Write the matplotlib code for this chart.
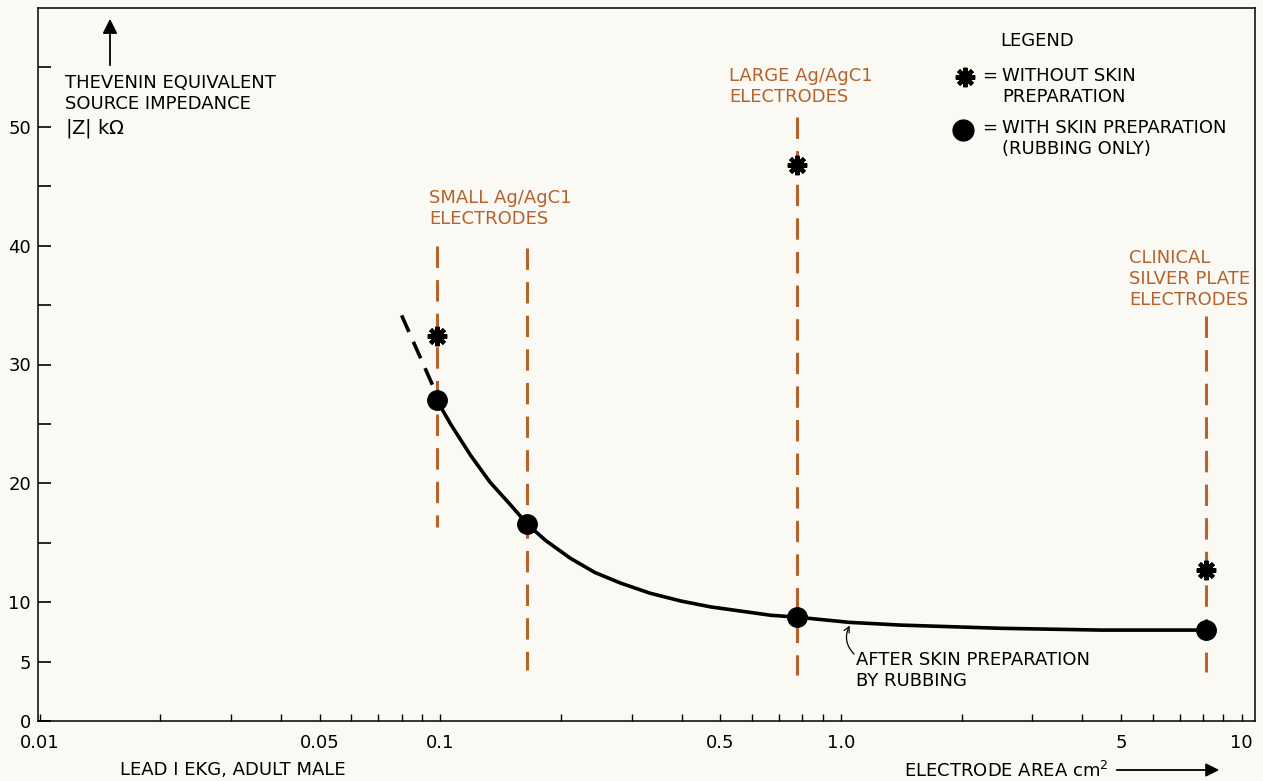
import matplotlib as mpl
import matplotlib.pyplot as plt
from matplotlib.ticker import FixedLocator, NullFormatter

# electrode areas (cm^2) of the measured electrode types
small_areas = [0.098, 0.165]
large_area = 0.776
clinical_area = 8.17

# |Z| in kOhm
prep_area = [0.098, 0.165, 0.776, 8.17]
prep_z = [27.0, 16.55, 8.74, 7.65]
noprep_area = [0.098, 0.776, 8.17]
noprep_z = [32.4, 46.8, 12.7]

# smooth curve after skin preparation
curve_area = [0.098, 0.106, 0.119, 0.133, 0.150, 0.165, 0.183, 0.211,
              0.243, 0.282, 0.334, 0.398, 0.473, 0.562, 0.667, 0.776,
              1.05, 1.41, 2.51, 4.47, 8.17]
curve_z = [27.0, 25.0, 22.35, 20.1, 18.15, 16.55, 15.2, 13.7, 12.5, 11.6,
           10.75, 10.1, 9.6, 9.25, 8.9, 8.74, 8.3, 8.07, 7.8, 7.65, 7.65]
# dashed extrapolation above the smallest electrode
extra_area = [0.0955, 0.0794]
extra_z = [28.3, 34.4]

# vertical electrode markers: (area, top, bottom)
guide_area = [0.098, 0.165, 0.776, 8.17]
guide_top = [40.0, 39.8, 50.8, 34.1]
guide_bottom = [16.3, 4.3, 3.9, 4.1]

xtick_vals = [0.01, 0.05, 0.1, 0.5, 1.0, 5, 10]
xtick_labels = ['0.01', '0.05', '0.1', '0.5', '1.0', '5', '10']
xminor_vals = [0.02, 0.03, 0.04, 0.06, 0.07, 0.08, 0.09,
               0.2, 0.3, 0.4, 0.6, 0.7, 0.8, 0.9,
               2, 3, 4, 6, 7, 8, 9]
ytick_vals = [0, 5, 10, 15, 20, 25, 30, 35, 40, 45, 50, 55]
ytick_labels = ['0', '5', '10', '', '20', '', '30', '', '40', '', '50', '']

W, H = 1263, 781
ORANGE = '#b5622d'
BG = '#faf9f4'
FS = 13


def fx(px):
    return px / W


def fy(py):
    return 1 - py / H


def main():
    mpl.rcParams['font.family'] = 'DejaVu Sans'
    fig = plt.figure(figsize=(W / 100, H / 100), dpi=100, facecolor=BG)
    ax = fig.add_axes([fx(38), fy(721), fx(1255) - fx(38), fy(8) - fy(721)])
    ax.set_facecolor(BG)
    ax.set_xscale('log')
    ax.set_xlim(0.0099, 10.8)
    ax.set_ylim(0, 60)

    for a, t, b in zip(guide_area, guide_top, guide_bottom):
        ax.plot([a, a], [t, b], color=ORANGE, lw=2.2,
                dashes=(7, 4), zorder=1)

    ax.plot(curve_area, curve_z, color='k', lw=2.6, zorder=3,
            solid_capstyle='round', solid_joinstyle='round')
    ax.plot(extra_area, extra_z, color='k', lw=2.6, dashes=(5, 3),
            zorder=3)
    ax.plot(prep_area, prep_z, 'o', color='k', ms=14, zorder=4)
    ax.plot(noprep_area, noprep_z, marker=(8, 2, 0), ls='none', color='k',
            ms=14, mew=3, zorder=4)

    ax.xaxis.set_major_locator(FixedLocator(xtick_vals))
    ax.set_xticklabels(xtick_labels)
    ax.xaxis.set_minor_locator(FixedLocator(xminor_vals))
    ax.xaxis.set_minor_formatter(NullFormatter())
    ax.set_yticks(ytick_vals)
    ax.set_yticklabels(ytick_labels)
    ax.tick_params(axis='x', which='both', direction='in', length=5,
                   width=1.0, labelsize=FS, pad=9)
    ax.tick_params(axis='y', direction='in', length=9, width=1.2,
                   labelsize=FS, pad=5)
    for s in ax.spines.values():
        s.set_linewidth(1.1)

    # y axis caption and arrow
    ax.annotate('', xy=(fx(110), fy(16)), xytext=(fx(110), fy(68)),
                xycoords='figure fraction', textcoords='figure fraction',
                arrowprops=dict(arrowstyle='-|>', color='k', lw=1.3,
                                mutation_scale=22))
    fig.text(fx(65), fy(74), 'THEVENIN EQUIVALENT\nSOURCE IMPEDANCE',
             fontsize=FS, va='top', ha='left')
    fig.text(fx(65), fy(117), r'$|$Z$|$ k$\Omega$', fontsize=FS + 1,
             va='top', ha='left')

    # electrode captions
    fig.text(fx(429), fy(189), 'SMALL Ag/AgC1\nELECTRODES', color=ORANGE,
             fontsize=FS, va='top', ha='left')
    fig.text(fx(729), fy(67), 'LARGE Ag/AgC1\nELECTRODES', color=ORANGE,
             fontsize=FS, va='top', ha='left')
    fig.text(fx(1129), fy(249), 'CLINICAL\nSILVER PLATE\nELECTRODES',
             color=ORANGE, fontsize=FS, va='top', ha='left')

    # legend
    fig.text(fx(1000), fy(32), 'LEGEND', fontsize=FS, va='top', ha='left')
    ax.plot([fx(965)], [fy(77)], marker=(8, 2, 0), color='k', ms=14, mew=3,
            transform=fig.transFigure, clip_on=False)
    fig.text(fx(982), fy(67), '=', fontsize=FS, va='top', ha='left')
    fig.text(fx(1002), fy(67), 'WITHOUT SKIN\nPREPARATION', fontsize=FS,
             va='top', ha='left')
    ax.plot([fx(963)], [fy(130)], 'o', color='k', ms=15,
            transform=fig.transFigure, clip_on=False)
    fig.text(fx(982), fy(119), '=', fontsize=FS, va='top', ha='left')
    fig.text(fx(1002), fy(119), 'WITH SKIN PREPARATION\n(RUBBING ONLY)',
             fontsize=FS, va='top', ha='left')

    # curve note
    ax.annotate('', xy=(fx(851), fy(623)), xytext=(fx(856), fy(656)),
                xycoords='figure fraction', textcoords='figure fraction',
                arrowprops=dict(arrowstyle='->', color='k', lw=0.9,
                                connectionstyle='arc3,rad=-0.4'))
    fig.text(fx(856), fy(651), 'AFTER SKIN PREPARATION\nBY RUBBING',
             fontsize=FS, va='top', ha='left')

    # bottom captions
    fig.text(fx(120), fy(761), 'LEAD I EKG, ADULT MALE', fontsize=FS,
             va='top', ha='left')
    fig.text(fx(904), fy(761), r'ELECTRODE AREA cm$^{2}$', fontsize=FS,
             va='top', ha='left')
    ax.annotate('', xy=(fx(1222), fy(770)), xytext=(fx(1114), fy(770)),
                xycoords='figure fraction', textcoords='figure fraction',
                arrowprops=dict(arrowstyle='-|>', color='k', lw=1.3,
                                mutation_scale=20))

    fig.savefig('out.png', dpi=100, facecolor=BG)


if __name__ == '__main__':
    main()
